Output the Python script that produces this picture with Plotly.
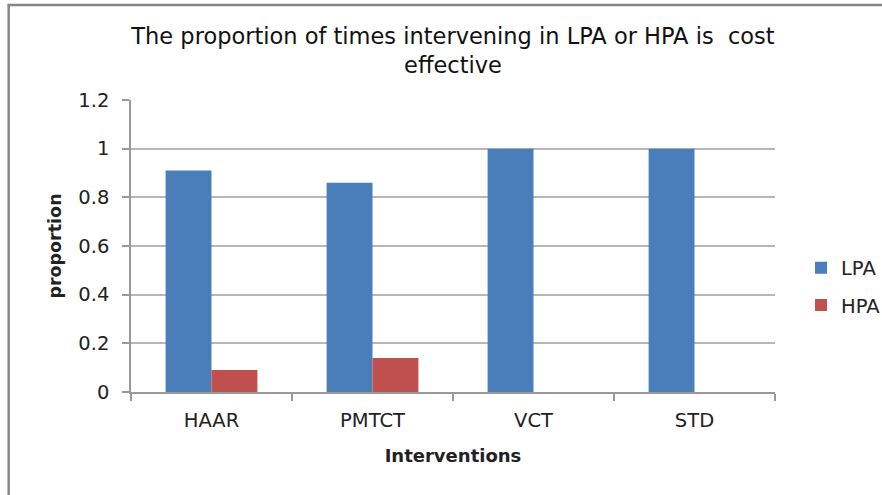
import plotly.graph_objects as go

categories = ["HAAR", "PMTCT", "VCT", "STD"]
lpa_values = [0.91, 0.86, 1.0, 1.0]
hpa_values = [0.09, 0.14, 0.0, 0.0]
y_ticks = [0, 0.2, 0.4, 0.6, 0.8, 1.0, 1.2]
y_tick_labels = ["0", "0.2", "0.4", "0.6", "0.8", "1", "1.2"]

FONT = "DejaVu Sans"
GRID = "#B7B7B7"
AXIS = "#999999"

fig = go.Figure()
fig.add_trace(go.Bar(name="LPA", x=categories, y=lpa_values,
                     marker=dict(color="#4A7EBB", line=dict(width=0)),
                     legendgroup="a"))
fig.add_trace(go.Bar(name="HPA", x=categories, y=hpa_values,
                     marker=dict(color="#C0504D", line=dict(width=0)),
                     legendgroup="b"))

W, H = 882, 495
L, R, T, B = 130.5, 106.5, 100, 103
pw, ph = W - L - R, H - T - B

def px(x):
    return (x - L) / pw

def py(y):
    return (H - B - y) / ph

fig.update_layout(
    width=W, height=H,
    margin=dict(l=L, r=R, t=T, b=B, pad=0),
    paper_bgcolor="white", plot_bgcolor="white",
    barmode="group", bargap=0.43, bargroupgap=0,
    font=dict(family=FONT, size=19, color="#222222"),
    title=dict(text="The proportion of times intervening in LPA or HPA is  cost<br>effective",
               x=0.5, xanchor="center", xref="paper", y=1 - 44 / H, yanchor="middle",
               font=dict(family=FONT, size=22.5, color="#111111")),
    legend=dict(xref="container", x=801 / W, xanchor="left",
                yref="paper", y=py(286.5), yanchor="middle",
                font=dict(family=FONT, size=19.5, color="#222222"),
                traceorder="grouped", tracegroupgap=9,
                bgcolor="rgba(0,0,0,0)"),
    xaxis=dict(
        title=dict(text="<b>Interventions</b>", font=dict(family=FONT, size=18), standoff=18),
        showline=True, linecolor=AXIS, linewidth=1.5,
        ticks="outside", tickson="boundaries", ticklen=7, tickcolor=AXIS, tickwidth=1.5,
        ticklabelstandoff=10,
        showgrid=False, tickfont=dict(family=FONT, size=19.5, color="#222222"),
    ),
    yaxis=dict(
        title=dict(text="<b>proportion</b>", font=dict(family=FONT, size=17.5), standoff=12),
        range=[0, 1.2], tickvals=y_ticks, ticktext=y_tick_labels,
        showline=True, linecolor=AXIS, linewidth=1.5,
        ticks="outside", ticklen=7, tickcolor=AXIS, tickwidth=1.5,
        ticklabelstandoff=9,
        showgrid=True, gridcolor=GRID, gridwidth=1.5,
        zeroline=False, tickfont=dict(family=FONT, size=19.5, color="#222222"),
    ),
    shapes=[
        dict(type="line", xref="paper", yref="paper", x0=px(8), x1=px(8), y0=py(4), y1=py(H + 2),
             line=dict(color="#878787", width=2.5)),
        dict(type="line", xref="paper", yref="paper", x0=px(7), x1=px(W + 2), y0=py(5), y1=py(5),
             line=dict(color="#878787", width=2.5)),
    ],
)

fig.write_html("out.html", config={"displayModeBar": False},
               post_script="document.body.style.margin='0';document.body.style.overflow='hidden';")
